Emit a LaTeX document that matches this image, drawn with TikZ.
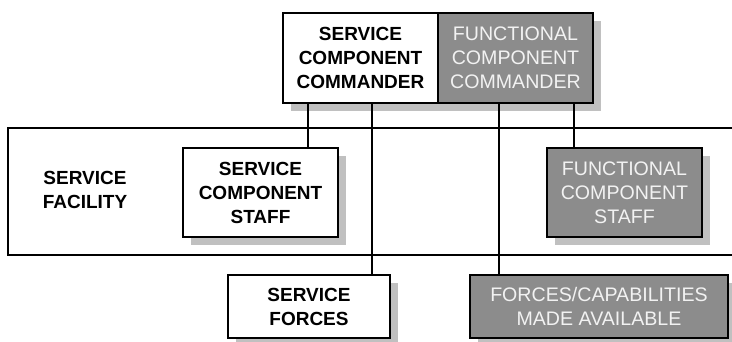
\documentclass[tikz,border=0pt]{standalone}
\usepackage{fontspec}
\setmainfont{Liberation Sans}
\usetikzlibrary{shadows}
\definecolor{boxgray}{RGB}{140,140,140}
\definecolor{shadegray}{RGB}{192,192,192}
\definecolor{paletext}{RGB}{242,242,242}

\begin{document}
\begin{tikzpicture}[x=1pt,y=-1pt,
	svcbox/.style={draw,line width=1.6pt,fill=white,align=center,inner sep=0pt,
		font=\fontsize{19}{24}\selectfont\bfseries,
		drop shadow={shadow xshift=8pt,shadow yshift=-8pt,fill=shadegray,opacity=1}},
	fnbox/.style={svcbox,fill=boxgray,text=paletext,font=\fontsize{19.6}{24}\selectfont},
	link/.style={line width=1.6pt}]
			\useasboundingbox (0,0) rectangle (732,341);
			
			% service facility band
			\draw[link] (732,128) -- (8,128) -- (8,255) -- (732,255);
			\node[font=\fontsize{19}{24}\selectfont\bfseries,align=center] (facility) at (85,190) {SERVICE\\FACILITY};
			
			\node[svcbox,minimum width=155pt,minimum height=90pt] (scc) at (360.5,58) {SERVICE\\COMPONENT\\COMMANDER};
			\node[fnbox,minimum width=155pt,minimum height=90pt] (fcc) at (515.5,58) {FUNCTIONAL\\COMPONENT\\COMMANDER};
			
			\node[svcbox,minimum width=155pt,minimum height=89pt] (scs) at (260.5,192.5) {SERVICE\\COMPONENT\\STAFF};
			\node[fnbox,minimum width=155pt,minimum height=89pt] (fcs) at (624.5,192.5) {FUNCTIONAL\\COMPONENT\\STAFF};
			
			\node[svcbox,minimum width=162pt,minimum height=63pt] (sforces) at (309,306.5) {SERVICE\\FORCES};
			\node[fnbox,minimum width=258pt,minimum height=63pt] (fpa) at (599,306.5) {FORCES/CAPABILITIES\\MADE AVAILABLE};
			
			\coordinate (x1) at (308,0);
			\coordinate (x2) at (372,0);
			\coordinate (x3) at (499,0);
			\coordinate (x4) at (574,0);
			\draw[link] (scc.south -| x1) -- (scs.north -| x1);
			\draw[link] (scc.south -| x2) -- (sforces.north -| x2);
			\draw[link] (fcc.south -| x3) -- (fpa.north -| x3);
			\draw[link] (fcc.south -| x4) -- (fcs.north -| x4);
		  \end{tikzpicture}
\end{document}
